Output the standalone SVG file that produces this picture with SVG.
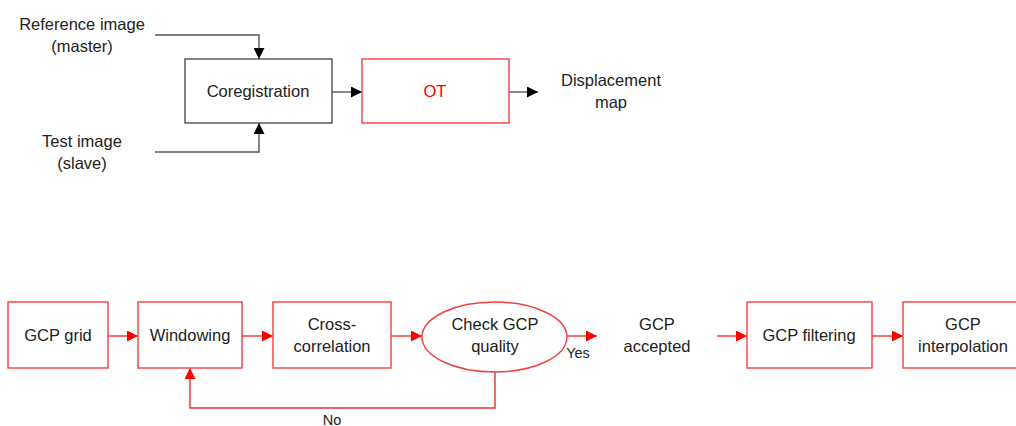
<svg xmlns="http://www.w3.org/2000/svg" width="1016" height="426" viewBox="0 0 1016 426">
<defs>
<style>
text{font-family:"Liberation Sans",Arial,sans-serif;font-size:16.5px;fill:#222;text-anchor:middle}
.bk{fill:#fff;stroke:#333;stroke-width:1.2}
.rd{fill:#fff;stroke:#f04040;stroke-width:1.4}
.cb{fill:none;stroke:#555;stroke-width:1.4}
.cr{fill:none;stroke:#f03030;stroke-width:1.4}
.sm{font-size:14.5px}
</style>
<marker id="ab" viewBox="0 0 10 10" refX="10" refY="5" markerWidth="11" markerHeight="11" markerUnits="userSpaceOnUse" orient="auto"><path d="M0,0L10,5L0,10Z" fill="#000"/></marker>
<marker id="ar" viewBox="0 0 10 10" refX="10" refY="5" markerWidth="11" markerHeight="11" markerUnits="userSpaceOnUse" orient="auto"><path d="M0,0L10,5L0,10Z" fill="#f00"/></marker>
</defs>
<g id="connectors">
<path class="cb" d="M155,35H259V59" marker-end="url(#ab)"/>
<path class="cb" d="M155,152H259V123" marker-end="url(#ab)"/>
<path class="cb" d="M332,92H362" marker-end="url(#ab)"/>
<path class="cb" d="M509,92H538" marker-end="url(#ab)"/>
<path class="cr" d="M108,336H138" marker-end="url(#ar)"/>
<path class="cr" d="M242,336H273" marker-end="url(#ar)"/>
<path class="cr" d="M391,336H422" marker-end="url(#ar)"/>
<path class="cr" d="M567,336H597" marker-end="url(#ar)"/>
<path class="cr" d="M717,336H747" marker-end="url(#ar)"/>
<path class="cr" d="M872,336H903" marker-end="url(#ar)"/>
<path class="cr" d="M495,372V408H190V368" marker-end="url(#ar)"/>
<text class="sm" x="578" y="358">Yes</text>
<text class="sm" x="332" y="425">No</text>
</g>
<g id="ref"><text x="82" y="30">Reference  image</text><text x="82" y="52">(master)</text></g>
<g id="test"><text x="82" y="147">Test image</text><text x="82" y="169">(slave)</text></g>
<g id="coreg"><rect class="bk" x="185" y="59" width="147" height="64"/><text x="258" y="97">Coregistration</text></g>
<g id="ot"><rect class="rd" x="362" y="59" width="147" height="64"/><text x="435" y="97" style="fill:#f00">OT</text></g>
<g id="disp"><text x="611" y="86">Displacement</text><text x="611" y="108">map</text></g>
<g id="grid"><rect class="rd" x="8" y="302" width="100" height="66"/><text x="58" y="341">GCP grid</text></g>
<g id="win"><rect class="rd" x="138" y="302" width="104" height="66"/><text x="190" y="341">Windowing</text></g>
<g id="cc"><rect class="rd" x="273" y="302" width="118" height="66"/><text x="332" y="330">Cross-</text><text x="332" y="352">correlation</text></g>
<g id="check"><ellipse class="rd" cx="494.5" cy="337" rx="72.5" ry="35"/><text x="495" y="330">Check GCP</text><text x="495" y="352">quality</text></g>
<g id="acc"><text x="657" y="330">GCP</text><text x="657" y="352">accepted</text></g>
<g id="filt"><rect class="rd" x="747" y="302" width="125" height="66"/><text x="809" y="341">GCP filtering</text></g>
<g id="interp"><rect class="rd" x="903" y="302" width="120" height="66"/><text x="963" y="330">GCP</text><text x="963" y="352">interpolation</text></g>
</svg>
